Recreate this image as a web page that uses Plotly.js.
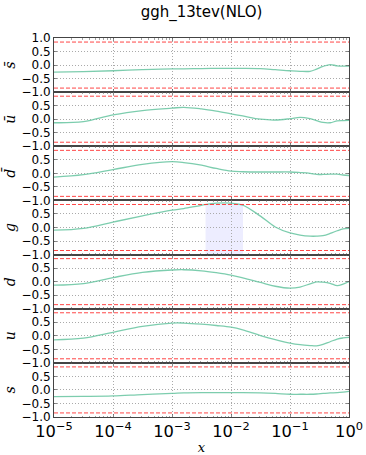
<!DOCTYPE html>
<html>
<head>
<meta charset="utf-8">
<script src="https://cdn.plot.ly/plotly-3.0.1.min.js"></script>
<style>html,body{margin:0;padding:0;background:#fff;}#chart{width:366px;height:455px;}</style>
</head>
<body>
<div id="chart"></div>
<script>
// shared x grid
var xVals = [1e-5, 3.16e-5, 1e-4, 3.16e-4, 1e-3, 1.58e-3, 3.16e-3, 5.62e-3, 1e-2, 1.58e-2, 3.16e-2, 5.62e-2, 0.1, 0.148, 0.219, 0.282, 0.363, 0.479, 0.631, 0.794, 1];

var panelLabels = ['s\u0304', 'u\u0304', 'd\u0304', 'g', 'd', 'u', 's'];

var sbarVals = [-0.26, -0.24, -0.21, -0.17, -0.14, -0.14, -0.13, -0.12, -0.12, -0.12, -0.13, -0.17, -0.21, -0.23, -0.23, -0.15, -0.05, 0.02, -0.03, -0.04, -0.04];
var ubarVals = [-0.13, -0.09, 0.16, 0.32, 0.41, 0.44, 0.38, 0.30, 0.20, 0.12, 0.00, -0.03, 0.02, 0.07, 0.02, -0.05, -0.12, -0.13, -0.06, -0.05, -0.04];
var dbarVals = [-0.14, -0.05, 0.14, 0.33, 0.43, 0.40, 0.30, 0.18, 0.08, 0.06, 0.05, 0.05, 0.05, 0.03, 0.00, -0.04, -0.04, -0.03, -0.03, -0.06, -0.08];
var gVals    = [-0.10, -0.03, 0.20, 0.43, 0.64, 0.70, 0.82, 0.90, 0.90, 0.83, 0.42, 0.02, -0.20, -0.28, -0.32, -0.32, -0.30, -0.22, -0.12, -0.05, -0.03];
var dVals    = [-0.13, -0.07, 0.15, 0.34, 0.43, 0.44, 0.40, 0.33, 0.24, 0.14, -0.03, -0.17, -0.24, -0.20, -0.08, -0.01, -0.02, -0.06, -0.15, -0.09, 0.00];
var uVals    = [-0.15, -0.09, 0.13, 0.35, 0.47, 0.47, 0.43, 0.38, 0.32, 0.22, 0.01, -0.14, -0.27, -0.33, -0.36, -0.37, -0.32, -0.22, -0.12, -0.08, -0.06];
var sVals    = [-0.25, -0.24, -0.22, -0.17, -0.13, -0.11, -0.10, -0.10, -0.10, -0.10, -0.11, -0.13, -0.16, -0.16, -0.16, -0.15, -0.13, -0.11, -0.10, -0.08, -0.05];

var allSeries = [sbarVals, ubarVals, dbarVals, gVals, dVals, uVals, sVals];

var limits = [0.85, -0.85];
var gBandX = [3.7e-3, 1.6e-2];
var gBandY = [-1, 0.88];
var gPanelIndex = 3;

// top panel shows the 1.0 label; lower panels share it with the -1.0 label of the panel above
var yTickValsTop = [1, 0.5, 0, -0.5, -1];
var yTickTextTop = ['1.0', '0.5', '0.0', '\u22120.5', '\u22121.0'];
var yTickValsRest = [0.5, 0, -0.5, -1];
var yTickTextRest = ['0.5', '0.0', '\u22120.5', '\u22121.0'];

var N = allSeries.length;
var traces = [];
var shapes = [];
var layout = {
  width: 366, height: 455,
  margin: {l: 54, r: 17, t: 38, b: 38},
  paper_bgcolor: '#fff', plot_bgcolor: '#fff',
  showlegend: false,
  font: {family: 'DejaVu Sans', size: 12, color: '#000'},
  title: {text: 'ggh_13tev(NLO)', font: {family: 'DejaVu Sans', size: 15, color: '#000'},
          xref: 'paper', x: 0.5, xanchor: 'center', yref: 'container', y: 0.974, yanchor: 'middle'},
  shapes: shapes
};

for (var i = 0; i < N; i++) {
  var k = i + 1;
  var xa = 'x' + (k === 1 ? '' : k);
  var ya = 'y' + (k === 1 ? '' : k);
  traces.push({
    x: xVals, y: allSeries[i], xaxis: xa, yaxis: ya,
    type: 'scatter', mode: 'lines',
    line: {color: 'rgba(102,196,160,0.85)', width: 1.3, shape: 'spline', smoothing: 1},
    hoverinfo: 'skip'
  });
  var last = (i === N - 1);
  var xax = {
    type: 'log', range: [-5, 0], anchor: ya, dtick: 1,
    showgrid: true, gridcolor: '#aaa', griddash: '1px,2px', gridwidth: 1,
    showline: true, mirror: 'allticks', linecolor: '#444', linewidth: 1,
    ticks: 'inside', ticklen: 3, tickcolor: '#555', tickwidth: 0.7,
    minor: {ticks: 'inside', ticklen: 1.5, tickcolor: '#666', tickwidth: 0.6, showgrid: false},
    showticklabels: last, exponentformat: 'power',
    zeroline: false
  };
  if (last) {
    xax.labelalias = {'1': '10<sup>0</sup>', '10': '10<sup>1</sup>'};
    xax.tickfont = {family: 'DejaVu Sans', size: 13, color: '#000'};
    xax.ticklabelstandoff = 0;
    xax.title = {text: 'x', font: {family: 'DejaVu Serif', size: 13, style: 'italic', color: '#000'}, standoff: 4};
  }
  if (k > 1) xax.matches = 'x';
  layout['xaxis' + (k === 1 ? '' : k)] = xax;
  layout['yaxis' + (k === 1 ? '' : k)] = {
    domain: [1 - (i + 1) / N, 1 - i / N], anchor: xa, range: [-1, 1],
    tickmode: 'array',
    tickvals: i === 0 ? yTickValsTop : yTickValsRest,
    ticktext: i === 0 ? yTickTextTop : yTickTextRest,
    showgrid: true, gridcolor: '#aaa', griddash: '1px,2px', gridwidth: 1,
    showline: true, mirror: 'allticks', linecolor: '#444', linewidth: 1,
    ticks: 'inside', ticklen: 3, tickcolor: '#555', tickwidth: 0.7,
    zeroline: false,
    tickfont: {family: 'DejaVu Sans', size: 12, color: '#000'},
    title: {text: panelLabels[i], font: {family: 'DejaVu Serif', size: 14, style: 'italic', color: '#000'}, standoff: 2}
  };
  limits.forEach(function (lv) {
    shapes.push({type: 'line', xref: xa + ' domain', yref: ya, x0: 0, x1: 1, y0: lv, y1: lv,
      line: {color: 'rgba(255,50,50,0.9)', width: 1, dash: '4px,2px'}, layer: 'above'});
  });
  if (i === gPanelIndex) {
    shapes.push({type: 'rect', xref: xa, yref: ya, x0: gBandX[0], x1: gBandX[1], y0: gBandY[0], y1: gBandY[1],
      fillcolor: 'rgba(0,0,255,0.07)', line: {width: 0}, layer: 'below'});
  }
}

Plotly.newPlot('chart', traces, layout, {staticPlot: true, displayModeBar: false});
</script>
</body>
</html>
